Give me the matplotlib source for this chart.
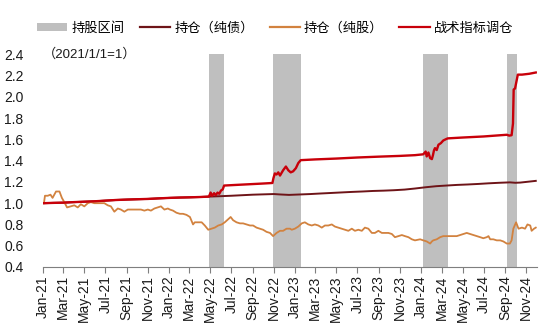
import pandas as pd
import matplotlib
matplotlib.use('Agg')
import matplotlib.pyplot as plt
import matplotlib.dates as mdates
from matplotlib.patches import Patch
from matplotlib.lines import Line2D

plt.rcParams['font.family'] = ['Liberation Sans', 'Noto Sans CJK SC']

# 持仓（纯债）
bond_dates = ['2021-01-04', '2021-02-01', '2021-03-01', '2021-04-01', '2021-05-01', '2021-06-01',
              '2021-07-01', '2021-08-01', '2021-09-01', '2021-10-01', '2021-11-01', '2021-12-01',
              '2022-01-04', '2022-02-01', '2022-03-01', '2022-04-01', '2022-04-27', '2022-06-01',
              '2022-07-01', '2022-08-01', '2022-09-01', '2022-10-01', '2022-11-01', '2022-11-20',
              '2022-12-15', '2023-01-15', '2023-02-15', '2023-03-15', '2023-04-15', '2023-05-15',
              '2023-06-15', '2023-07-15', '2023-08-15', '2023-09-15', '2023-10-15', '2023-11-15',
              '2023-12-15', '2024-01-15', '2024-02-15', '2024-03-15', '2024-04-15', '2024-05-15',
              '2024-06-15', '2024-07-15', '2024-08-15', '2024-09-15', '2024-10-01', '2024-10-15',
              '2024-11-01', '2024-11-15', '2024-11-29']
bond_vals = [1.000, 1.003, 1.005, 1.010, 1.014, 1.018,
             1.024, 1.030, 1.034, 1.037, 1.040, 1.045,
             1.050, 1.053, 1.055, 1.058, 1.062, 1.066,
             1.070, 1.075, 1.080, 1.083, 1.086, 1.082,
             1.078, 1.082, 1.086, 1.091, 1.096, 1.101,
             1.106, 1.110, 1.115, 1.118, 1.122, 1.128,
             1.138, 1.150, 1.160, 1.166, 1.172, 1.176,
             1.181, 1.187, 1.192, 1.196, 1.192, 1.194,
             1.200, 1.205, 1.210]

# 持仓（纯股）
stock_dates = ['2021-01-04', '2021-01-07', '2021-01-15', '2021-01-23', '2021-01-29', '2021-02-08',
               '2021-02-18', '2021-02-25', '2021-03-04', '2021-03-12', '2021-03-23', '2021-04-02',
               '2021-04-12', '2021-04-21', '2021-05-01', '2021-05-11', '2021-05-20', '2021-05-30',
               '2021-06-09', '2021-06-18', '2021-06-28', '2021-07-08', '2021-07-17', '2021-07-27',
               '2021-08-06', '2021-08-15', '2021-08-25', '2021-09-04', '2021-09-13', '2021-09-23',
               '2021-10-03', '2021-10-12', '2021-10-22', '2021-11-01', '2021-11-10', '2021-11-20',
               '2021-11-30', '2021-12-09', '2021-12-19', '2021-12-29',
               '2022-01-04', '2022-01-13', '2022-01-23', '2022-02-02', '2022-02-11', '2022-02-21',
               '2022-03-03', '2022-03-12', '2022-03-17', '2022-03-27', '2022-04-06', '2022-04-15',
               '2022-04-25', '2022-05-05', '2022-05-14', '2022-05-24', '2022-06-03', '2022-06-12',
               '2022-06-22', '2022-06-29', '2022-07-06', '2022-07-16', '2022-07-26', '2022-08-04',
               '2022-08-14', '2022-08-24', '2022-09-02', '2022-09-12', '2022-09-22', '2022-10-01',
               '2022-10-11', '2022-10-21', '2022-10-30', '2022-11-09', '2022-11-19', '2022-11-28',
               '2022-12-08', '2022-12-18', '2022-12-23',
               '2023-01-01', '2023-01-11', '2023-01-21', '2023-01-30', '2023-02-09', '2023-02-19',
               '2023-02-28', '2023-03-10', '2023-03-20', '2023-03-29', '2023-04-08', '2023-04-18',
               '2023-04-27', '2023-05-07', '2023-05-17', '2023-05-26', '2023-06-05', '2023-06-15',
               '2023-06-24', '2023-07-04', '2023-07-14', '2023-07-23', '2023-08-02', '2023-08-12',
               '2023-08-21', '2023-08-31', '2023-09-10', '2023-09-19', '2023-09-29', '2023-10-09',
               '2023-10-18', '2023-10-28', '2023-11-07', '2023-11-16', '2023-11-26', '2023-12-06',
               '2023-12-15', '2023-12-30',
               '2024-01-08', '2024-01-18', '2024-01-28', '2024-02-02', '2024-02-06', '2024-02-16',
               '2024-02-26', '2024-03-06', '2024-03-16', '2024-03-26', '2024-04-04', '2024-04-14',
               '2024-04-24', '2024-05-03', '2024-05-13', '2024-05-23', '2024-06-01', '2024-06-11',
               '2024-06-21', '2024-06-30', '2024-07-10', '2024-07-15', '2024-07-20', '2024-07-29',
               '2024-08-08', '2024-08-18', '2024-08-27', '2024-09-06', '2024-09-15', '2024-09-20',
               '2024-09-25', '2024-10-03', '2024-10-10', '2024-10-20', '2024-10-29', '2024-11-05',
               '2024-11-13', '2024-11-17', '2024-11-24', '2024-11-29']
stock_vals = [1.00, 1.07, 1.07, 1.08, 1.05, 1.11,
              1.11, 1.05, 1.01, 0.96, 0.97, 0.98,
              0.96, 0.99, 0.97, 1.00, 1.01, 1.00,
              1.00, 1.00, 1.00, 0.98, 0.97, 0.92,
              0.95, 0.94, 0.92, 0.94, 0.94, 0.94,
              0.94, 0.94, 0.93, 0.94, 0.93, 0.95,
              0.96, 0.97, 0.94, 0.95,
              0.94, 0.93, 0.91, 0.90, 0.90, 0.89,
              0.87, 0.80, 0.82, 0.82, 0.82, 0.79,
              0.75, 0.76, 0.77, 0.79, 0.80, 0.82,
              0.85, 0.87, 0.84, 0.82, 0.81, 0.81,
              0.80, 0.79, 0.79, 0.77, 0.76, 0.75,
              0.73, 0.72, 0.69, 0.72, 0.74, 0.74,
              0.76, 0.76, 0.75,
              0.76, 0.78, 0.81, 0.82, 0.80, 0.79,
              0.80, 0.79, 0.77, 0.79, 0.79, 0.80,
              0.78, 0.77, 0.76, 0.75, 0.74, 0.76,
              0.74, 0.75, 0.74, 0.77, 0.76, 0.72,
              0.72, 0.74, 0.72, 0.72, 0.72, 0.71,
              0.68, 0.69, 0.70, 0.69, 0.68, 0.66,
              0.65, 0.66,
              0.65, 0.64, 0.62, 0.64, 0.65, 0.66,
              0.68, 0.69, 0.69, 0.69, 0.69, 0.69,
              0.70, 0.71, 0.72, 0.71, 0.70, 0.69,
              0.68, 0.67, 0.68, 0.69, 0.66, 0.66,
              0.65, 0.65, 0.64, 0.62, 0.62, 0.65,
              0.76, 0.82, 0.76, 0.77, 0.76, 0.80,
              0.79, 0.74, 0.76, 0.77]

# 战术指标调仓
tact_dates = ['2021-01-04', '2021-02-01', '2021-03-01', '2021-04-01', '2021-05-01', '2021-06-01',
              '2021-07-01', '2021-08-01', '2021-09-01', '2021-10-01', '2021-11-01', '2021-12-01',
              '2022-01-04', '2022-02-01', '2022-03-01', '2022-04-01', '2022-04-27',
              '2022-05-02', '2022-05-06', '2022-05-12', '2022-05-17', '2022-05-22', '2022-05-27',
              '2022-06-01', '2022-06-06', '2022-06-10', '2022-07-15', '2022-08-20', '2022-09-25',
              '2022-10-28', '2022-10-31', '2022-11-04', '2022-11-09', '2022-11-14', '2022-11-19',
              '2022-11-28', '2022-12-06', '2022-12-13', '2022-12-20', '2022-12-27', '2023-01-04',
              '2023-01-11', '2023-01-18', '2023-03-01', '2023-05-01', '2023-07-01', '2023-09-01',
              '2023-11-01', '2023-12-15', '2024-01-08', '2024-01-15', '2024-01-18', '2024-01-23',
              '2024-01-28', '2024-02-02', '2024-02-05', '2024-02-08', '2024-02-11', '2024-02-16',
              '2024-02-21', '2024-02-28', '2024-03-06', '2024-03-16', '2024-03-19', '2024-05-01',
              '2024-07-01', '2024-09-06', '2024-09-13', '2024-09-20', '2024-09-24', '2024-09-26',
              '2024-09-30', '2024-10-08', '2024-10-20', '2024-11-10', '2024-11-29']
tact_vals = [1.000, 1.003, 1.005, 1.010, 1.014, 1.018,
             1.024, 1.030, 1.034, 1.037, 1.040, 1.045,
             1.050, 1.053, 1.055, 1.058, 1.062,
             1.100, 1.069, 1.094, 1.075, 1.100, 1.088,
             1.119, 1.130, 1.166, 1.172, 1.178, 1.184,
             1.190, 1.236, 1.280, 1.270, 1.290, 1.260,
             1.310, 1.345, 1.310, 1.290, 1.300, 1.330,
             1.378, 1.405, 1.412, 1.420, 1.430, 1.438,
             1.445, 1.452, 1.460, 1.486, 1.440, 1.477,
             1.424, 1.415, 1.450, 1.496, 1.518, 1.500,
             1.550, 1.565, 1.590, 1.606, 1.610, 1.618,
             1.628, 1.644, 1.636, 1.640, 1.750, 2.070,
             2.080, 2.210, 2.210, 2.218, 2.230]

# 持股区间
hold_start = ['2022-04-27', '2022-10-29', '2024-01-08', '2024-09-06']
hold_end = ['2022-06-11', '2023-01-18', '2024-03-19', '2024-10-06']

c_bond = '#6E1418'
c_stock = '#D2823F'
c_tact = '#C8000A'
c_span = '#BFBFBF'

fig = plt.figure(figsize=(5.5, 3.32), dpi=100)
ax = fig.add_axes([0.078, 0.196, 0.898, 0.640])

for s, e in zip(hold_start, hold_end):
    ax.axvspan(pd.Timestamp(s), pd.Timestamp(e), color=c_span, lw=0, zorder=1)

ax.plot(pd.to_datetime(bond_dates), bond_vals, color=c_bond, lw=1.4, zorder=3)
ax.plot(pd.to_datetime(stock_dates), stock_vals, color=c_stock, lw=1.3, zorder=3)
ax.plot(pd.to_datetime(tact_dates), tact_vals, color=c_tact, lw=1.7, zorder=4)

ax.set_xlim(pd.Timestamp('2021-01-01'), pd.Timestamp('2024-12-02'))
ax.set_ylim(0.4, 2.4)
ax.set_yticks([0.4, 0.6, 0.8, 1.0, 1.2, 1.4, 1.6, 1.8, 2.0, 2.2, 2.4])
ax.yaxis.set_major_formatter(plt.FormatStrFormatter('%.1f'))

ax.xaxis.set_major_locator(mdates.MonthLocator(bymonth=[1, 3, 5, 7, 9, 11]))
ax.xaxis.set_major_formatter(mdates.DateFormatter('%b-%y'))
plt.setp(ax.get_xticklabels(), rotation=90)

for side in ['left', 'right', 'top']:
    ax.spines[side].set_visible(False)
ax.spines['bottom'].set_color('#7F7F7F')
ax.spines['bottom'].set_linewidth(0.8)
ax.tick_params(axis='x', direction='out', length=4, width=0.8, color='#7F7F7F',
               labelsize=10, pad=2, labelcolor='#1A1A1A')
ax.tick_params(axis='y', length=0, labelsize=10, pad=14, labelcolor='#1A1A1A')

ax.text(0.0, 2.4, '（2021/1/1=1）', fontsize=9.5, color='#1A1A1A', va='center', ha='left',
        transform=ax.get_yaxis_transform())

handles = [Patch(facecolor=c_span, edgecolor='none'),
           Line2D([], [], color=c_bond, lw=1.6),
           Line2D([], [], color=c_stock, lw=1.6),
           Line2D([], [], color=c_tact, lw=1.6)]
labels = ['持股区间', '持仓（纯债）', '持仓（纯股）', '战术指标调仓']
fig.legend(handles, labels, loc='upper center', bbox_to_anchor=(0.5, 0.97), ncol=4,
           frameon=False, fontsize=9.5, handlelength=2.3, handletextpad=0.3,
           columnspacing=1.2, handleheight=0.6)

fig.savefig('out.png', dpi=100)
